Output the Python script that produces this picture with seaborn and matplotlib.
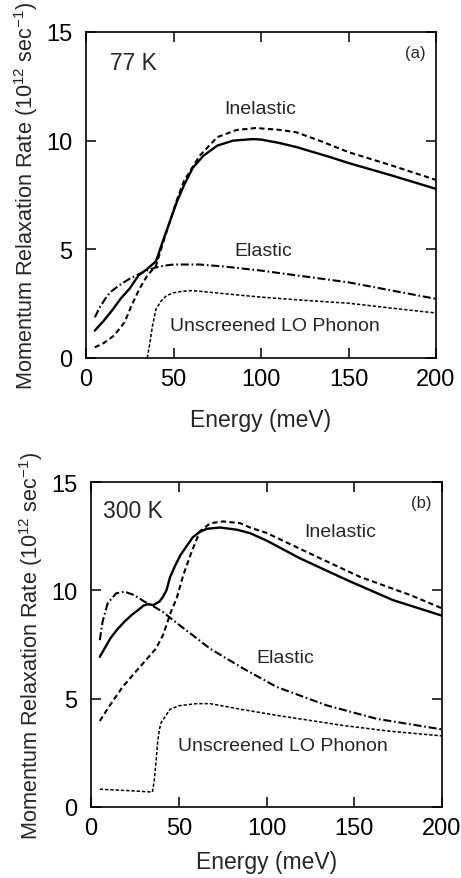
import matplotlib
matplotlib.use("Agg")
import matplotlib.pyplot as plt
import seaborn as sns
import pandas as pd

# ---------------- data: panel (a) 77 K ----------------
a_total_x = [5, 10, 15, 20, 25, 30, 35, 40, 44, 48, 52, 56, 61, 67, 75, 84, 95, 100, 110, 120, 130, 140, 150, 175, 200]
a_total_y = [1.26, 1.7, 2.2, 2.75, 3.2, 3.8, 4.1, 4.45, 5.4, 6.3, 7.2, 7.95, 8.75, 9.3, 9.77, 10.0, 10.07, 10.05, 9.9, 9.71, 9.47, 9.23, 8.97, 8.39, 7.78]

a_inel_x = [5, 10, 16, 22, 26, 30.5, 35, 40, 44, 48, 52, 56, 65, 75, 86, 97, 110, 120, 135, 150, 175, 200]
a_inel_y = [0.49, 0.68, 1.03, 1.64, 2.41, 3.18, 3.79, 4.25, 5.3, 6.3, 7.3, 8.15, 9.31, 10.16, 10.49, 10.58, 10.5, 10.39, 9.95, 9.47, 8.85, 8.19]

a_elas_x = [5, 8, 12, 15, 20, 25, 30, 35, 40, 45, 50, 65, 80, 100, 125, 150, 175, 200]
a_elas_y = [1.87, 2.35, 2.85, 3.1, 3.4, 3.65, 3.85, 4.03, 4.17, 4.25, 4.3, 4.3, 4.2, 4.02, 3.75, 3.48, 3.1, 2.72]

a_lo_x = [35, 36.5, 38, 40, 43, 46, 50, 55, 60, 65, 80, 100, 125, 150, 175, 200]
a_lo_y = [0.0, 0.7, 1.49, 2.25, 2.63, 2.87, 3.0, 3.07, 3.1, 3.07, 2.95, 2.8, 2.65, 2.52, 2.29, 2.07]

# ---------------- data: panel (b) 300 K ----------------
b_total_x = [5, 11, 15, 19, 23, 27, 30, 32.5, 35.5, 39, 41, 43, 45, 48, 51, 55, 58, 62, 66, 73.5, 83, 90.6, 100, 119, 145.7, 172, 200]
b_total_y = [6.93, 7.78, 8.2, 8.55, 8.85, 9.1, 9.3, 9.36, 9.32, 9.48, 9.7, 10.0, 10.6, 11.15, 11.63, 12.1, 12.45, 12.7, 12.84, 12.9, 12.8, 12.64, 12.3, 11.48, 10.48, 9.55, 8.83]

b_inel_x = [5, 10, 18, 25, 30.4, 37, 41, 43, 45.5, 48.8, 52.6, 57.4, 62, 68, 75.4, 85, 90.6, 100, 130.5, 153, 182, 200]
b_inel_y = [3.97, 4.6, 5.54, 6.2, 6.7, 7.31, 7.93, 8.4, 9.0, 9.63, 10.71, 11.79, 12.72, 13.1, 13.18, 13.1, 12.9, 12.65, 11.48, 10.63, 9.78, 9.17]

b_elas_x = [5, 6.6, 9.5, 14.3, 19, 24.7, 30.4, 36, 41, 45.6, 50, 60, 67.8, 86.8, 105.8, 134.3, 162.8, 200]
b_elas_y = [7.7, 8.55, 9.4, 9.86, 9.94, 9.78, 9.48, 9.24, 9.0, 8.7, 8.42, 7.8, 7.31, 6.39, 5.54, 4.69, 4.07, 3.58]

b_lo_x = [5, 20, 35, 36, 37, 38, 39, 40, 45, 50, 60, 67.8, 86, 105.8, 143.8, 170, 200]
b_lo_y = [0.82, 0.76, 0.69, 1.2, 2.05, 3.0, 3.6, 3.9, 4.51, 4.67, 4.77, 4.77, 4.5, 4.23, 3.76, 3.5, 3.28]

x_ticks = [0, 50, 100, 150, 200]
y_ticks = [0, 5, 10, 15]
x_label = "Energy (meV)"
y_label = "Momentum Relaxation Rate (10$^{12}$ sec$^{-1}$)"

sns.set_style("ticks")
plt.rcParams['font.family'] = ['Liberation Sans', 'DejaVu Sans']
plt.rcParams['mathtext.fontset'] = 'custom'
plt.rcParams['mathtext.rm'] = 'Liberation Sans'
plt.rcParams['mathtext.it'] = 'Liberation Sans'
plt.rcParams['lines.scale_dashes'] = False

fig = plt.figure(figsize=(4.61, 8.79), dpi=100)
ax_a = fig.add_axes([0.1866, 0.5916, 0.7592, 0.3709])
ax_b = fig.add_axes([0.1974, 0.0808, 0.7614, 0.3697])

styles = {
    "total": dict(linestyle="-", linewidth=1.7),
    "inel": dict(linestyle=(0, (3.8, 2.4)), linewidth=1.5),
    "elas": dict(linestyle=(0, (5.8, 2.0, 1.2, 2.0)), linewidth=1.5),
    "lo": dict(linestyle=(0, (2.4, 1.4)), linewidth=1.1),
}

def draw(ax, series, temp, tag, labels, xpad):
    for key, (xs, ys) in series.items():
        df = pd.DataFrame({"x": xs, "y": ys})
        sns.lineplot(data=df, x="x", y="y", ax=ax, color="black",
                     sort=False, estimator=None, **styles[key])
    ax.set_xlim(0, 200)
    ax.set_ylim(0, 15)
    ax.set_xticks(x_ticks)
    ax.set_yticks(y_ticks)
    ax.tick_params(direction="in", length=7, width=1.1, top=True, right=True,
                   labelsize=17, colors="black")
    ax.tick_params(axis="x", pad=7)
    ax.tick_params(axis="y", pad=10)
    for sp in ax.spines.values():
        sp.set_linewidth(1.2)
        sp.set_color("black")
    ax.set_xlabel(x_label, fontsize=16.5, labelpad=xpad)
    ax.set_ylabel(y_label, fontsize=15.6, labelpad=4)
    ax.text(temp[0], temp[1], temp[2], fontsize=16.5, ha="center", va="center")
    ax.text(188, 14.05, tag, fontsize=12, ha="center", va="center")
    for (tx, ty, tt) in labels:
        ax.text(tx, ty, tt, fontsize=14, ha="center", va="center")

draw(ax_a,
     {"total": (a_total_x, a_total_y), "inel": (a_inel_x, a_inel_y),
      "elas": (a_elas_x, a_elas_y), "lo": (a_lo_x, a_lo_y)},
     (27, 13.6, "77 K"), "(a)",
     [(99.5, 11.5, "Inelastic"), (101, 4.95, "Elastic"), (108, 1.5, "Unscreened LO Phonon")],
     13)

draw(ax_b,
     {"total": (b_total_x, b_total_y), "inel": (b_inel_x, b_inel_y),
      "elas": (b_elas_x, b_elas_y), "lo": (b_lo_x, b_lo_y)},
     (24, 13.7, "300 K"), "(b)",
     [(142, 12.7, "Inelastic"), (110.5, 6.9, "Elastic"), (109.5, 2.82, "Unscreened LO Phonon")],
     8)

fig.savefig("out.png", dpi=100)
